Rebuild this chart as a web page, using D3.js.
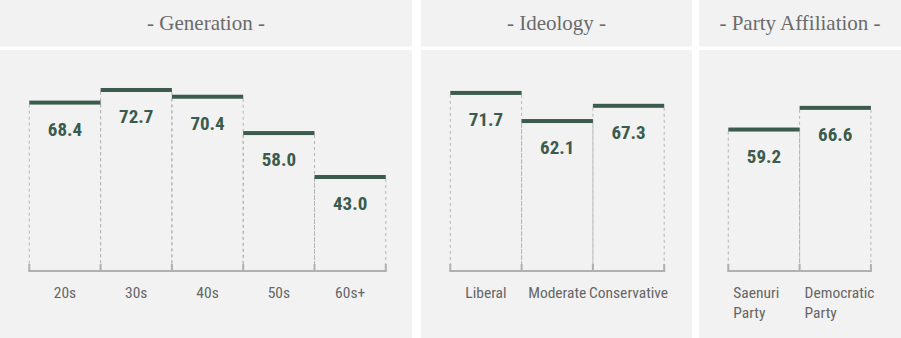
<!DOCTYPE html>
<html>
<head>
<meta charset="utf-8">
<script src="https://cdn.jsdelivr.net/npm/d3@7"></script>
<style>
  body { margin: 0; background: #fff; }
  svg { display: block; }
</style>
</head>
<body>
<svg id="chart" width="901" height="338"></svg>
<script>
// Panel titles
const panelTitles = ["- Generation -", "- Ideology -", "- Party Affiliation -"];

// Categories per panel (multi-line labels split with \n)
const generationCats = ["20s", "30s", "40s", "50s", "60s+"];
const ideologyCats = ["Liberal", "Moderate", "Conservative"];
const partyCats = ["Saenuri\nParty", "Democratic\nParty"];

// Values per panel
const generationVals = [68.4, 72.7, 70.4, 58.0, 43.0];
const ideologyVals = [71.7, 62.1, 67.3];
const partyVals = [59.2, 66.6];

const panels = [
  { title: panelTitles[0], cats: generationCats, vals: generationVals, x0: 0, w: 412, align: "middle" },
  { title: panelTitles[1], cats: ideologyCats, vals: ideologyVals, x0: 421, w: 271, align: "middle" },
  { title: panelTitles[2], cats: partyCats, vals: partyVals, x0: 699, w: 202, align: "start" }
];

const svg = d3.select("#chart");
const bandW = 71.3;
const baseY = 271;

// Shared value scale
const y = d3.scaleLinear().domain([0, 100]).range([301, 8]);

const lineColor = "#3b5b4d";
const dashColor = "#b5b5b5";
const axisColor = "#b0b0b0";
const narrow = "'Liberation Sans Narrow', 'Roboto Condensed', 'Arial Narrow', sans-serif";

panels.forEach(p => {
  const g = svg.append("g").attr("transform", `translate(${p.x0},0)`);

  // Backgrounds
  g.append("rect").attr("x", 0).attr("y", 0).attr("width", p.w).attr("height", 46.5).attr("fill", "#f2f2f2");
  g.append("rect").attr("x", 0).attr("y", 50).attr("width", p.w).attr("height", 288).attr("fill", "#f2f2f2");

  // Title
  g.append("text")
    .attr("x", p.w / 2).attr("y", 30)
    .attr("text-anchor", "middle")
    .attr("font-family", "'Liberation Serif', 'DejaVu Serif', serif")
    .attr("font-size", 21)
    .attr("fill", "#6a6a6a")
    .text(p.title);

  const x = d3.scaleBand()
    .domain(p.cats)
    .range([29.3, 29.3 + bandW * p.cats.length])
    .padding(0);

  const data = p.cats.map((c, i) => ({ cat: c, val: p.vals[i] }));

  // dashed sides of each bar
  const edges = [];
  data.forEach(d => {
    edges.push({ x: x(d.cat), v: d.val });
    edges.push({ x: x(d.cat) + x.bandwidth(), v: d.val });
  });
  g.selectAll(".dash").data(edges).join("line")
    .attr("x1", d => d.x).attr("x2", d => d.x)
    .attr("y1", d => y(d.v) + 4)
    .attr("y2", baseY)
    .attr("stroke", dashColor)
    .attr("stroke-width", 1)
    .attr("stroke-dasharray", "3,3");

  // Top lines
  g.selectAll(".top").data(data).join("rect")
    .attr("x", d => x(d.cat))
    .attr("y", d => y(d.val))
    .attr("width", x.bandwidth())
    .attr("height", 4)
    .attr("fill", lineColor);

  // Value labels
  g.selectAll(".val").data(data).join("text")
    .attr("x", d => x(d.cat) + x.bandwidth() / 2)
    .attr("y", d => y(d.val) + 35)
    .attr("text-anchor", "middle")
    .attr("font-family", narrow)
    .attr("font-weight", "bold")
    .attr("font-size", 19)
    .attr("fill", lineColor)
    .text(d => d.val.toFixed(1));

  // Axis line and ticks at band boundaries
  const xr = x.range();
  g.append("line")
    .attr("x1", xr[0] - 1).attr("x2", xr[1] + 1)
    .attr("y1", baseY).attr("y2", baseY)
    .attr("stroke", axisColor).attr("stroke-width", 2);
  const ticks = p.cats.map(c => x(c)).concat([xr[1]]);
  g.selectAll(".tick").data(ticks).join("line")
    .attr("x1", d => d).attr("x2", d => d)
    .attr("y1", baseY - 7).attr("y2", baseY)
    .attr("stroke", axisColor).attr("stroke-width", 2);

  // Category labels
  const labels = g.selectAll(".cat").data(data).join("text")
    .attr("font-family", narrow)
    .attr("font-size", 15.5)
    .attr("fill", "#666")
    .attr("text-anchor", p.align);
  labels.each(function(d) {
    const lines = d.cat.split("\n");
    const tx = p.align === "start" ? x(d.cat) + 5 : x(d.cat) + x.bandwidth() / 2;
    d3.select(this).selectAll("tspan").data(lines).join("tspan")
      .attr("x", tx)
      .attr("y", (l, i) => 298 + i * 20)
      .text(l => l);
  });
});
</script>
</body>
</html>
